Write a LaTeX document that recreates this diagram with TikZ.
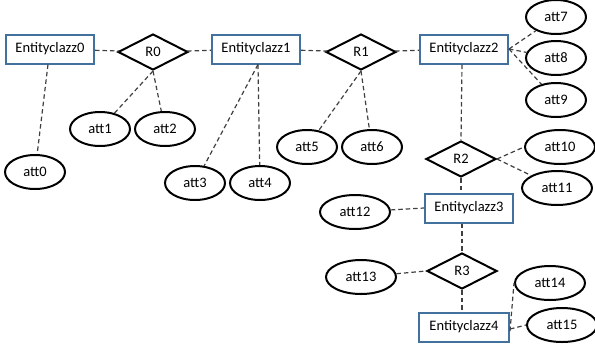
\documentclass[tikz,border=0pt]{standalone}
\usepackage{fontspec}
\setmainfont{Carlito}
\usetikzlibrary{shapes.geometric}
\definecolor{boxblue}{RGB}{65,113,156}
\tikzset{
  ent/.style={draw=boxblue, line width=2pt, fill=white, minimum width=88pt, minimum height=29pt, inner sep=0pt, font=\fontsize{14.5}{17}\selectfont},
  rel/.style={draw=black, line width=2pt, diamond, aspect=2, minimum width=70pt, minimum height=36pt, inner sep=0pt, font=\fontsize{14.5}{17}\selectfont},
  att/.style={draw=black, line width=2pt, ellipse, minimum width=60pt, minimum height=34pt, inner sep=0pt, font=\fontsize{14.5}{17}\selectfont},
  attw/.style={att, minimum width=70pt},
  link/.style={draw=black!75, line width=1.2pt, dash pattern=on 4.5pt off 3pt}
}
\begin{document}
\begin{tikzpicture}[x=1pt,y=-1pt]
\useasboundingbox (0,0) rectangle (595,349);
% entities
\node[ent] (e0) at (50,49) {Entityclazz0};
\node[ent] (e1) at (256,49) {Entityclazz1};
\node[ent] (e2) at (464,49) {Entityclazz2};
\node[ent] (e3) at (469,208) {Entityclazz3};
\node[ent, minimum width=90pt] (e4) at (464,327) {Entityclazz4};
% relations
\node[rel] (r0) at (153,52) {R0};
\node[rel] (r1) at (361,52) {R1};
\node[rel] (r2) at (461,159) {R2};
\node[rel] (r3) at (462,271) {R3};
% attributes
\node[att] (a0) at (35,172) {att0};
\node[att] (a1) at (100,129) {att1};
\node[att] (a2) at (165,129) {att2};
\node[att] (a3) at (195,183) {att3};
\node[att] (a4) at (260,183) {att4};
\node[att] (a5) at (307,147) {att5};
\node[att] (a6) at (372,147) {att6};
\node[att] (a7) at (556,17) {att7};
\node[att] (a8) at (556,58) {att8};
\node[att] (a9) at (556,100) {att9};
\node[attw] (a10) at (560,147) {att10};
\node[attw] (a11) at (557,188) {att11};
\node[attw] (a12) at (355,212) {att12};
\node[attw] (a13) at (361,277) {att13};
\node[attw] (a14) at (550,283) {att14};
\node[attw] (a15) at (562,325) {att15};
% helper coordinates
\coordinate (e1b) at ([xshift=2pt]e1.south);
\coordinate (e2b) at ([xshift=-2pt]e2.south);
% connectors
\draw[link] (e0) -- (r0);
\draw[link] (r0) -- (e1);
\draw[link] (e1) -- (r1);
\draw[link] (r1) -- (e2);
\draw[link] ([xshift=-2pt]e0.south) -- (a0);
\draw[link] (r0.south) -- (a1);
\draw[link] (r0.south) -- (a2);
\draw[link] (e1b) -- (a3);
\draw[link] (e1b) -- (a4);
\draw[link] (r1.south) -- (a5);
\draw[link] (r1.south) -- (a6);
\draw[link] (e2.east) -- (a7);
\draw[link] (e2.east) -- (a8);
\draw[link] (e2.east) -- (a9);
\draw[link] (e2b) -- (r2.north);
\draw[link] (r2.east) -- (a10.west);
\draw[link] (r2.east) -- (a11);
\draw[link] (r2.south) -- (r2.south |- e3.north);
\draw[link] (a12) -- (e3.west);
\draw[link] (r3.north |- e3.south) -- (r3.north);
\draw[link] (a13) -- (r3.west);
\draw[link] (r3.south) -- (r3.south |- e4.north);
\draw[link] ([yshift=-4pt]e4.east) -- (a14.west);
\draw[link] ([yshift=-2pt]e4.east) -- (a15.west);
\end{tikzpicture}
\end{document}
